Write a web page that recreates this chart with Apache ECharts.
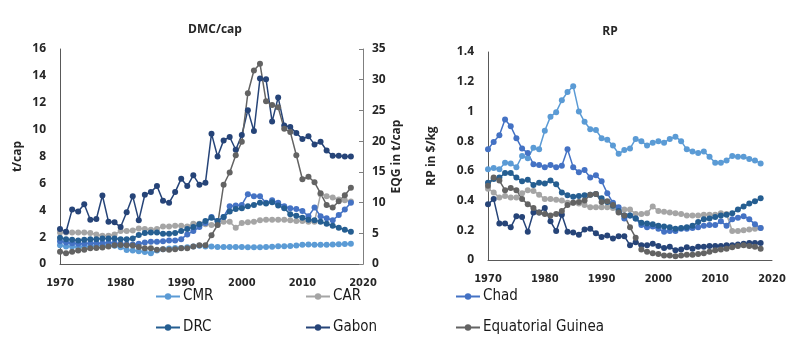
<!DOCTYPE html>
<html>
<head>
<meta charset="utf-8">
<script src="https://cdn.jsdelivr.net/npm/echarts@6/dist/echarts.min.js"></script>
<style>
  html, body { margin: 0; padding: 0; background: #fff; }
  #chart { width: 808px; height: 351px; }
</style>
</head>
<body>
<div id="chart"></div>
<script>
// years on the x axis
const years = [1970, 1971, 1972, 1973, 1974, 1975, 1976, 1977, 1978, 1979,
  1980, 1981, 1982, 1983, 1984, 1985, 1986, 1987, 1988, 1989,
  1990, 1991, 1992, 1993, 1994, 1995, 1996, 1997, 1998, 1999,
  2000, 2001, 2002, 2003, 2004, 2005, 2006, 2007, 2008, 2009,
  2010, 2011, 2012, 2013, 2014, 2015, 2016, 2017, 2018];

// DMC/cap, t/cap (EQG on the right axis)
const cmrDmc = [1.4, 1.3, 1.3, 1.25, 1.3, 1.3, 1.35, 1.4, 1.4, 1.35,
  1.25, 1.05, 1.0, 0.95, 0.9, 0.8, 1.0, 1.1, 1.15, 1.2,
  1.2, 1.25, 1.3, 1.35, 1.3, 1.3, 1.26, 1.26, 1.27, 1.27,
  1.26, 1.25, 1.24, 1.24, 1.26, 1.29, 1.33, 1.33, 1.34, 1.37,
  1.43, 1.45, 1.44, 1.44, 1.44, 1.45, 1.47, 1.49, 1.51];
const carDmc = [2.35, 2.35, 2.35, 2.35, 2.35, 2.3, 2.2, 2.1, 2.1, 2.2,
  2.45, 2.45, 2.5, 2.65, 2.6, 2.55, 2.6, 2.8, 2.8, 2.85,
  2.85, 2.8, 3.0, 3.0, 2.95, 2.9, 2.9, 3.15, 3.15, 2.7,
  3.05, 3.1, 3.15, 3.25, 3.3, 3.3, 3.3, 3.3, 3.25, 3.2,
  3.2, 3.15, 3.15, 5.2, 5.05, 4.95, 4.8, 4.75, 4.65];
const chadDmc = [1.7, 1.6, 1.55, 1.5, 1.5, 1.55, 1.55, 1.55, 1.6, 1.55,
  1.5, 1.45, 1.45, 1.5, 1.6, 1.65, 1.65, 1.7, 1.75, 1.75,
  1.85, 2.2, 2.45, 2.75, 3.05, 3.5, 3.2, 3.5, 4.3, 4.35,
  4.4, 5.2, 5.05, 5.05, 4.55, 4.75, 4.55, 4.3, 4.15, 4.1,
  3.95, 3.55, 4.2, 3.55, 3.4, 3.25, 3.65, 4.05, 4.55];
const drcDmc = [1.95, 1.85, 1.8, 1.75, 1.8, 1.85, 1.85, 1.9, 1.9, 1.9,
  1.85, 1.85, 1.9, 2.15, 2.3, 2.35, 2.35, 2.25, 2.25, 2.3,
  2.45, 2.6, 2.75, 2.95, 3.2, 3.45, 3.2, 3.5, 3.9, 4.1,
  4.15, 4.3, 4.4, 4.55, 4.5, 4.6, 4.35, 4.15, 3.7, 3.6,
  3.45, 3.3, 3.25, 3.15, 3.0, 2.85, 2.7, 2.55, 2.4];
const gabonDmc = [2.6, 2.4, 4.05, 3.9, 4.45, 3.3, 3.35, 5.1, 3.15, 3.1,
  2.75, 3.85, 5.05, 3.25, 5.15, 5.35, 5.8, 4.7, 4.55, 5.35,
  6.35, 5.8, 6.6, 5.9, 6.05, 9.7, 8.0, 9.2, 9.45, 8.5,
  9.6, 11.45, 9.9, 13.8, 13.75, 10.6, 12.4, 10.3, 10.2, 9.75,
  9.3, 9.5, 8.9, 9.1, 8.45, 8.05, 8.05, 8.0, 8.0];
const eqgDmc = [2.0, 1.75, 2.0, 2.2, 2.3, 2.55, 2.6, 2.7, 2.85, 3.05,
  3.1, 3.05, 3.0, 2.75, 2.55, 2.55, 2.3, 2.4, 2.3, 2.4,
  2.55, 2.55, 2.85, 3.05, 3.05, 4.7, 6.35, 12.9, 14.9, 17.7,
  19.9, 27.8, 31.5, 32.6, 26.5, 25.9, 25.5, 22.0, 21.5, 17.7,
  13.8, 14.2, 13.3, 11.5, 9.6, 9.2, 10.2, 11.2, 12.4];

// RP, $/kg
const cmrRp = [0.61, 0.62, 0.61, 0.655, 0.65, 0.625, 0.7, 0.685, 0.755, 0.745,
  0.87, 0.965, 0.995, 1.075, 1.13, 1.17, 1.0, 0.93, 0.88, 0.875,
  0.82, 0.81, 0.77, 0.715, 0.74, 0.75, 0.815, 0.8, 0.77, 0.79,
  0.8, 0.79, 0.815, 0.83, 0.8, 0.745, 0.73, 0.72, 0.73, 0.695,
  0.655, 0.655, 0.67, 0.7, 0.695, 0.695, 0.68, 0.67, 0.65];
const carRp = [0.48, 0.455, 0.42, 0.43, 0.42, 0.42, 0.45, 0.47, 0.465, 0.44,
  0.41, 0.41, 0.405, 0.4, 0.385, 0.385, 0.38, 0.37, 0.355, 0.355,
  0.355, 0.355, 0.35, 0.335, 0.34, 0.34, 0.31, 0.31, 0.315, 0.36,
  0.33, 0.325, 0.32, 0.315, 0.31, 0.3, 0.3, 0.3, 0.305, 0.305,
  0.305, 0.315, 0.31, 0.195, 0.195, 0.2, 0.205, 0.21, 0.215];
const chadRp = [0.745, 0.795, 0.84, 0.945, 0.9, 0.82, 0.75, 0.72, 0.645, 0.64,
  0.625, 0.64, 0.625, 0.635, 0.745, 0.625, 0.59, 0.605, 0.555, 0.57,
  0.53, 0.45, 0.385, 0.355, 0.28, 0.3, 0.28, 0.235, 0.22, 0.225,
  0.21, 0.19, 0.195, 0.195, 0.21, 0.21, 0.215, 0.22, 0.23, 0.235,
  0.235, 0.26, 0.23, 0.275, 0.285, 0.295, 0.275, 0.24, 0.215];
const drcRp = [0.52, 0.545, 0.555, 0.585, 0.585, 0.555, 0.53, 0.54, 0.505, 0.52,
  0.515, 0.535, 0.51, 0.455, 0.435, 0.425, 0.43, 0.435, 0.44, 0.445,
  0.415, 0.39, 0.365, 0.33, 0.3, 0.3, 0.28, 0.25, 0.245, 0.24,
  0.23, 0.225, 0.22, 0.21, 0.215, 0.22, 0.23, 0.255, 0.275, 0.28,
  0.29, 0.3, 0.305, 0.315, 0.34, 0.36, 0.38, 0.395, 0.415];
const gabonRp = [0.375, 0.41, 0.245, 0.245, 0.22, 0.295, 0.29, 0.19, 0.32, 0.32,
  0.35, 0.26, 0.195, 0.305, 0.19, 0.185, 0.17, 0.205, 0.21, 0.18,
  0.155, 0.165, 0.145, 0.16, 0.16, 0.1, 0.12, 0.1, 0.1, 0.11,
  0.095, 0.08, 0.09, 0.065, 0.07, 0.085, 0.075, 0.09, 0.09, 0.095,
  0.095, 0.095, 0.1, 0.1, 0.105, 0.11, 0.115, 0.115, 0.115];
const eqgRp = [0.5, 0.555, 0.535, 0.47, 0.485, 0.47, 0.41, 0.375, 0.35, 0.32,
  0.31, 0.3, 0.31, 0.33, 0.37, 0.385, 0.39, 0.4, 0.44, 0.445,
  0.39, 0.395, 0.37, 0.32, 0.3, 0.22, 0.15, 0.07, 0.055, 0.045,
  0.04, 0.03, 0.03, 0.025, 0.03, 0.035, 0.035, 0.04, 0.045, 0.055,
  0.065, 0.07, 0.075, 0.085, 0.095, 0.1, 0.095, 0.09, 0.075];

const names = ["CMR", "CAR", "Chad", "DRC", "Gabon", "Equatorial Guinea"];
const colors = ["#5b9bd5", "#a5a5a5", "#4472c4", "#255e91", "#264478", "#636363"];

const labelFont = "'Liberation Sans Narrow', 'DejaVu Sans Condensed', sans-serif";
const tickFont = "'Open Sans', sans-serif";

function pairs(vals) {
  return years.map((y, i) => [y, vals[i]]);
}

function line(idx, vals, xAxisIndex, yAxisIndex) {
  return {
    name: names[idx],
    type: "line",
    xAxisIndex: xAxisIndex,
    yAxisIndex: yAxisIndex,
    symbol: "circle",
    symbolSize: 6,
    color: colors[idx],
    lineStyle: { width: 1.5, color: colors[idx] },
    itemStyle: { color: colors[idx] },
    data: pairs(vals)
  };
}

const axisLine = { show: true, lineStyle: { color: "#595959", width: 1 } };
const yLabel = { color: "#262626", fontSize: 12, fontWeight: "bold", fontFamily: tickFont };
// years without thousands separator
const xLabel = { color: "#262626", fontSize: 11, fontWeight: "bold", fontFamily: labelFont, margin: 14,
  formatter: (v) => String(v) };
const yName = { color: "#262626", fontSize: 12, fontWeight: "bold", fontFamily: tickFont };

const option = {
  backgroundColor: "#fff",
  animation: false,
  title: [
    { text: "DMC/cap", left: 210, top: 19, textAlign: "center",
      textStyle: { fontSize: 12, fontWeight: "bold", color: "#262626", fontFamily: tickFont } },
    { text: "RP", left: 605, top: 21, textAlign: "center",
      textStyle: { fontSize: 12, fontWeight: "bold", color: "#262626", fontFamily: tickFont } }
  ],
  legend: [
    { data: ["CMR", "DRC"], left: 155, top: 288, orient: "vertical" },
    { data: ["CAR", "Gabon"], left: 305, top: 288, orient: "vertical" },
    { data: ["Chad", "Equatorial Guinea"], left: 455, top: 288, orient: "vertical" }
  ].map(l => Object.assign(l, {
    padding: 0,
    itemGap: 14,
    itemWidth: 24,
    itemHeight: 8,
    textStyle: { fontSize: 15, color: "#1a1a1a", fontFamily: labelFont, lineHeight: 17, padding: [0, 0, 0, -2] }
  })),
  grid: [
    { left: 60, right: 445, top: 49, bottom: 87 },
    { left: 488, right: 36, top: 52, bottom: 91 }
  ],
  xAxis: [
    { type: "value", gridIndex: 0, min: 1970, max: 2020, interval: 10,
      axisLine: axisLine, axisTick: { show: false }, splitLine: { show: false }, axisLabel: xLabel },
    { type: "value", gridIndex: 1, min: 1970, max: 2020, interval: 10,
      axisLine: axisLine, axisTick: { show: false }, splitLine: { show: false }, axisLabel: xLabel }
  ],
  yAxis: [
    { type: "value", gridIndex: 0, min: 0, max: 16, interval: 2, name: "t/cap",
      nameLocation: "middle", nameRotate: 90, nameGap: 36, nameTextStyle: yName,
      axisLine: axisLine, axisTick: { show: false }, splitLine: { show: false },
      axisLabel: Object.assign({ margin: 14 }, yLabel) },
    { type: "value", gridIndex: 0, position: "right", min: 0, max: 35, interval: 5, name: "EQG in t/cap",
      nameLocation: "middle", nameRotate: 90, nameGap: 28, nameTextStyle: yName,
      axisLine: { show: true, lineStyle: { color: "#7f7f7f", width: 1 } },
      axisTick: { show: true, inside: true, length: 4, lineStyle: { color: "#7f7f7f" } },
      splitLine: { show: false },
      axisLabel: Object.assign({ margin: 9 }, yLabel) },
    { type: "value", gridIndex: 1, min: 0, max: 1.4, interval: 0.2, name: "RP in $/kg",
      nameLocation: "middle", nameRotate: 90, nameGap: 50, nameTextStyle: yName,
      axisLine: axisLine, axisTick: { show: false }, splitLine: { show: false },
      axisLabel: Object.assign({ margin: 14 }, yLabel) }
  ],
  series: [
    line(0, cmrDmc, 0, 0),
    line(1, carDmc, 0, 0),
    line(2, chadDmc, 0, 0),
    line(3, drcDmc, 0, 0),
    line(4, gabonDmc, 0, 0),
    line(5, eqgDmc, 0, 1),
    line(0, cmrRp, 1, 2),
    line(1, carRp, 1, 2),
    line(2, chadRp, 1, 2),
    line(3, drcRp, 1, 2),
    line(4, gabonRp, 1, 2),
    line(5, eqgRp, 1, 2)
  ]
};

const myChart = echarts.init(document.getElementById("chart"));
myChart.setOption(option);
</script>
</body>
</html>
